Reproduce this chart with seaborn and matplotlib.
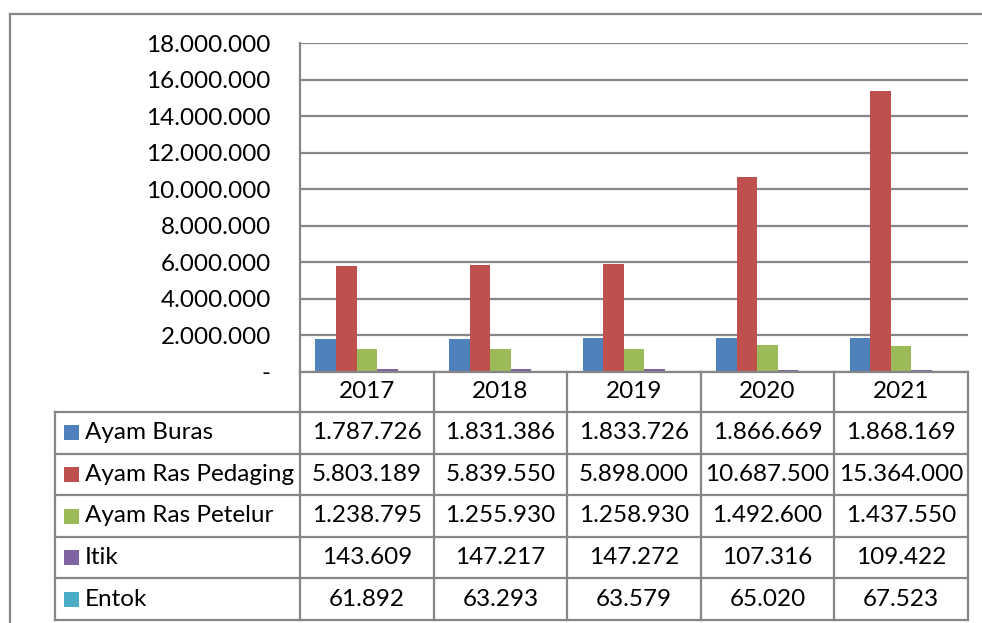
import matplotlib
matplotlib.use("Agg")
import matplotlib.pyplot as plt
from matplotlib.lines import Line2D
from matplotlib.patches import Rectangle
import seaborn as sns
import pandas as pd

# Poultry population by type, 2017-2021
years = ["2017", "2018", "2019", "2020", "2021"]
series_names = ["Ayam Buras", "Ayam Ras Pedaging", "Ayam Ras Petelur", "Itik", "Entok"]
ayam_buras = [1787726, 1831386, 1833726, 1866669, 1868169]
ayam_ras_pedaging = [5803189, 5839550, 5898000, 10687500, 15364000]
ayam_ras_petelur = [1238795, 1255930, 1258930, 1492600, 1437550]
itik = [143609, 147217, 147272, 107316, 109422]
entok = [61892, 63293, 63579, 65020, 67523]
y_ticks = [0, 2000000, 4000000, 6000000, 8000000, 10000000, 12000000, 14000000, 16000000, 18000000]

colors = ["#4F81BD", "#C0504D", "#9BBB59", "#8064A2", "#4BACC6"]
grid_gray = "#868686"

all_values = [ayam_buras, ayam_ras_pedaging, ayam_ras_petelur, itik, entok]
df = pd.DataFrame(
    [(y, name, v) for name, vals in zip(series_names, all_values) for y, v in zip(years, vals)],
    columns=["year", "series", "value"],
)

W, H = 982, 623
fig = plt.figure(figsize=(W / 100, H / 100), dpi=100)
fig.patch.set_facecolor("white")
FONT = "Lato"
FS = 17.5


def fx(px):
    return px / W


def fy(py):
    return 1 - py / H


# plot area
left, right, top, bottom = 300, 968, 43, 372
ax = fig.add_axes([fx(left), fy(bottom), fx(right - left), (bottom - top) / H])
sns.barplot(
    data=df, x="year", y="value", hue="series", hue_order=series_names,
    palette=colors, width=0.77, saturation=1, legend=False, ax=ax, linewidth=0,
)
ax.set_xlim(-0.5, 4.5)
ax.set_ylim(0, 18000000)
ax.set_yticks(y_ticks)
ax.set_yticklabels(["-" if v == 0 else f"{v:,.0f}".replace(",", ".") for v in y_ticks],
                   fontfamily=FONT, fontsize=FS)
ax.tick_params(axis="y", length=0, pad=21)
ax.set_xticks([])
ax.set_xlabel("")
ax.set_ylabel("")
ax.grid(axis="y", color=grid_gray, linewidth=1.6)
ax.set_axisbelow(True)
for s in ["top", "right", "bottom"]:
    ax.spines[s].set_visible(False)
ax.spines["left"].set_color(grid_gray)
ax.spines["left"].set_linewidth(1.6)

# data table beneath the plot
col_edges = [left + (right - left) * k / len(years) for k in range(len(years) + 1)]
table_left = 55
header_top, header_bottom = 372, 412
row_h = (620 - header_bottom) / len(series_names)
row_edges = [header_bottom + row_h * k for k in range(len(series_names) + 1)]


def hline(x0, x1, y):
    fig.add_artist(Line2D([fx(x0), fx(x1)], [fy(y), fy(y)], color=grid_gray, lw=1.6))


def vline(x, y0, y1):
    fig.add_artist(Line2D([fx(x), fx(x)], [fy(y0), fy(y1)], color=grid_gray, lw=1.6))


hline(left, right, header_top)
for y in row_edges:
    hline(table_left, right, y)
for x in col_edges:
    vline(x, header_top, row_edges[-1])
vline(table_left, row_edges[0], row_edges[-1])

for i, yr in enumerate(years):
    cx = (col_edges[i] + col_edges[i + 1]) / 2
    fig.text(fx(cx), fy((header_top + header_bottom) / 2), yr, ha="center", va="center",
             fontfamily=FONT, fontsize=FS)

for r, (name, vals, c) in enumerate(zip(series_names, all_values, colors)):
    cy = (row_edges[r] + row_edges[r + 1]) / 2
    fig.add_artist(Rectangle((fx(64), fy(cy + 7.5)), fx(15), 15 / H, color=c, lw=0))
    fig.text(fx(85), fy(cy), name, ha="left", va="center", fontfamily=FONT, fontsize=FS)
    for i, v in enumerate(vals):
        cx = (col_edges[i] + col_edges[i + 1]) / 2
        fig.text(fx(cx), fy(cy), f"{v:,.0f}".replace(",", "."), ha="center", va="center",
                 fontfamily=FONT, fontsize=FS)

# chart frame
fig.add_artist(Line2D([fx(10), 1], [fy(13.5), fy(13.5)], color=grid_gray, lw=1.6))
fig.add_artist(Line2D([fx(10), fx(10)], [fy(13.5), 0], color=grid_gray, lw=1.6))

fig.savefig("out.png", dpi=100)
